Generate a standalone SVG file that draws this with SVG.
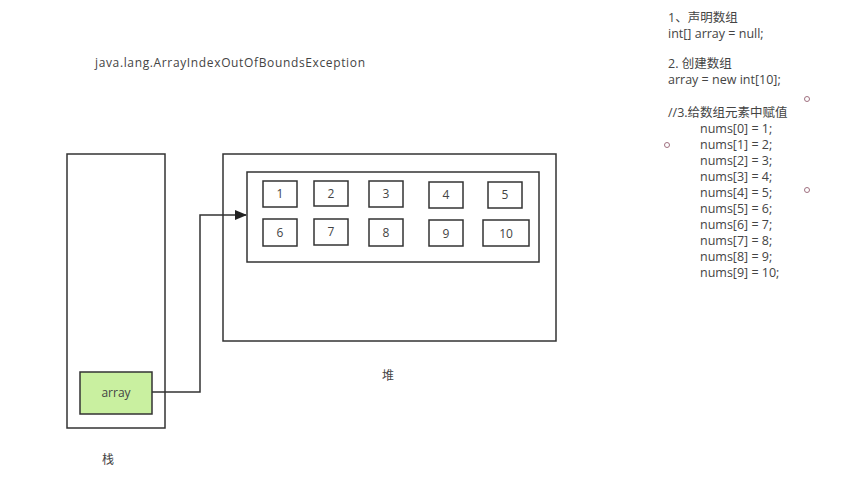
<svg xmlns="http://www.w3.org/2000/svg" width="865" height="483" viewBox="0 0 865 483">
<style>
.box{fill:none;stroke:#333;stroke-width:1.5}
.cell{fill:#fff;stroke:#333;stroke-width:1.5}
.t{font-family:"Open Sans","Liberation Sans","Noto Sans CJK SC",sans-serif;fill:#444}
.c{font-size:12px;text-anchor:middle}
.r{font-size:12.5px}
.h{fill:none;stroke:#a07080;stroke-width:1}
</style>
<defs>
<marker id="ah" markerWidth="12" markerHeight="10" refX="11" refY="5" orient="auto" markerUnits="userSpaceOnUse">
<path d="M0,0 L12,5 L0,10 Z" fill="#222"/>
</marker>
</defs>
<rect width="865" height="483" fill="#fff"/>
<text class="t" x="95" y="67" font-size="12" textLength="270">java.lang.ArrayIndexOutOfBoundsException</text>
<g id="stack">
<rect class="box" x="67" y="154" width="98" height="274"/>
<text class="t" x="108" y="464" font-size="12" text-anchor="middle">栈</text>
</g>
<g id="array">
<rect x="80" y="372" width="72" height="42" fill="#c9f0a0" stroke="#333" stroke-width="1.5"/>
<text class="t c" x="116" y="397">array</text>
</g>
<g id="heap">
<rect class="box" x="223" y="154" width="333" height="187"/>
<text class="t" x="388" y="380" font-size="12" text-anchor="middle">堆</text>
</g>
<g id="arrayobj">
<rect class="box" x="247" y="172" width="292" height="90"/>
</g>
<g id="cell1"><rect class="cell" x="263" y="181" width="34" height="26"/><text class="t c" x="280" y="198">1</text></g>
<g id="cell2"><rect class="cell" x="314" y="181" width="34" height="25"/><text class="t c" x="331" y="198">2</text></g>
<g id="cell3"><rect class="cell" x="369" y="181" width="34" height="26"/><text class="t c" x="386" y="198">3</text></g>
<g id="cell4"><rect class="cell" x="429" y="182" width="34" height="26"/><text class="t c" x="446" y="199">4</text></g>
<g id="cell5"><rect class="cell" x="488" y="182" width="34" height="26"/><text class="t c" x="505" y="199">5</text></g>
<g id="cell6"><rect class="cell" x="263" y="219" width="34" height="27"/><text class="t c" x="280" y="237">6</text></g>
<g id="cell7"><rect class="cell" x="314" y="219" width="34" height="26"/><text class="t c" x="331" y="236">7</text></g>
<g id="cell8"><rect class="cell" x="369" y="219" width="34" height="27"/><text class="t c" x="386" y="237">8</text></g>
<g id="cell9"><rect class="cell" x="429" y="220" width="34" height="26"/><text class="t c" x="446" y="238">9</text></g>
<g id="cell10"><rect class="cell" x="483" y="220" width="46" height="26"/><text class="t c" x="506" y="238">10</text></g>
<g id="connectors">
<polyline points="152,392 200,392 200,215 246,215" fill="none" stroke="#333" stroke-width="1.5" marker-end="url(#ah)"/>
</g>
<g id="code">
<text class="t r" x="668" y="22">1、声明数组</text>
<text class="t r" x="668" y="38">int[] array = null;</text>
<text class="t r" x="668" y="68">2. 创建数组</text>
<text class="t r" x="668" y="84">array = new int[10];</text>
<text class="t r" x="668" y="117">//3.给数组元素中赋值</text>
<text class="t r" x="700" y="133">nums[0] = 1;</text>
<text class="t r" x="700" y="149">nums[1] = 2;</text>
<text class="t r" x="700" y="165">nums[2] = 3;</text>
<text class="t r" x="700" y="181">nums[3] = 4;</text>
<text class="t r" x="700" y="197">nums[4] = 5;</text>
<text class="t r" x="700" y="213">nums[5] = 6;</text>
<text class="t r" x="700" y="229">nums[6] = 7;</text>
<text class="t r" x="700" y="245">nums[7] = 8;</text>
<text class="t r" x="700" y="261">nums[8] = 9;</text>
<text class="t r" x="700" y="277">nums[9] = 10;</text>
</g>
<circle class="h" cx="807" cy="99" r="2.5"/>
<circle class="h" cx="667" cy="145" r="2.5"/>
<circle class="h" cx="807" cy="190" r="2.5"/>
</svg>
